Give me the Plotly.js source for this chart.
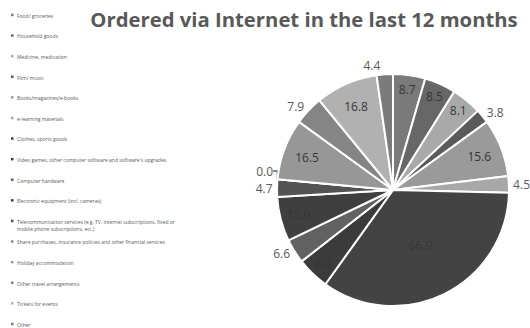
<!DOCTYPE html>
<html>
<head>
<meta charset="utf-8">
<script src="https://cdn.plot.ly/plotly-3.0.1.min.js"></script>
<style>html,body{margin:0;padding:0;background:#fff}#chart{width:530px;height:328px}</style>
</head>
<body>
<div id="chart"></div>
<script>
var categories = [
  "Food/ groceries",
  "Household goods",
  "Medicine, medication",
  "Film/ music",
  "Books/magazines/e-books",
  "e-learning materials",
  "Clothes, sports goods",
  "Video games, other computer software and software's upgrades",
  "Computer hardware",
  "Electronic equipment (incl. cameras)",
  "Telecommunication services (e.g. TV, internet subscriptions, fixed or<br>mobile phone subscriptions, etc.)",
  "Share purchases, insurance policies and other financial services",
  "Holiday accommodation",
  "Other travel arrangements",
  "Tickets for events",
  "Other"
];
var values = [8.7, 8.5, 8.1, 3.8, 15.6, 4.5, 66.9, 8.8, 6.6, 12.0, 4.7, 0.0, 16.5, 7.9, 16.8, 4.4];
var sliceColors = ["#7a7a7a", "#676767", "#a9a9a9", "#5a5a5a", "#9a9a9a", "#a8a8a8", "#434343", "#3b3b3b",
                   "#626262", "#3f3f3f", "#535353", "#8a8a8a", "#979797", "#858585", "#b1b1b1", "#7b7b7b"];
var labelPlacement = ["inside", "inside", "inside", "outside", "inside", "outside", "inside", "inside",
                      "outside", "inside", "outside", "outside", "inside", "outside", "inside", "outside"];
var titleText = "Ordered via Internet in the last 12 months";

var W = 530, H = 328;
var cx = 393, cy = 190, R = 116;

var pie = {
  type: "pie",
  labels: categories,
  values: values,
  sort: false,
  direction: "clockwise",
  rotation: 0,
  marker: {colors: sliceColors, line: {color: "#ffffff", width: 2}},
  texttemplate: "%{value:.1f}",
  textposition: labelPlacement,
  insidetextfont: {family: "Open Sans, sans-serif", size: 12, color: "#363636"},
  outsidetextfont: {family: "Open Sans, sans-serif", size: 12, color: "#595959"},
  insidetextorientation: "horizontal",
  hoverinfo: "label+value",
  showlegend: false,
  domain: {x: [(cx - R) / W, (cx + R) / W], y: [(H - cy - R) / H, (H - cy + R) / H]}
};

var annotations = [], shapes = [];
var top0 = 15, step = (324 - 15) / (categories.length - 1);
categories.forEach(function (c, i) {
  var yc = top0 + i * step;
  annotations.push({
    xref: "paper", yref: "paper", x: 15.5 / W, y: 1 - (yc - 3.3) / H,
    xanchor: "left", yanchor: "top", align: "left", showarrow: false, borderpad: 0,
    text: c, font: {family: "Open Sans, sans-serif", size: 5, color: "#595959"}
  });
  shapes.push({
    type: "rect", xref: "paper", yref: "paper",
    x0: 11 / W, x1: 13.5 / W, y0: 1 - (yc + 1.2) / H, y1: 1 - (yc - 1.3) / H,
    fillcolor: sliceColors[i], line: {width: 0}
  });
});

var layout = {
  width: W, height: H,
  margin: {l: 0, r: 0, t: 0, b: 0},
  paper_bgcolor: "#ffffff",
  title: {
    text: "<b>" + titleText + "</b>",
    font: {family: "Open Sans, sans-serif", size: 20.3, color: "#595959"},
    x: 304 / W, xanchor: "center", xref: "paper",
    y: 1 - 20 / H, yanchor: "middle", yref: "container"
  },
  showlegend: false,
  annotations: annotations,
  shapes: shapes
};

Plotly.newPlot("chart", [pie], layout, {displayModeBar: false, staticPlot: true});
</script>
</body>
</html>
